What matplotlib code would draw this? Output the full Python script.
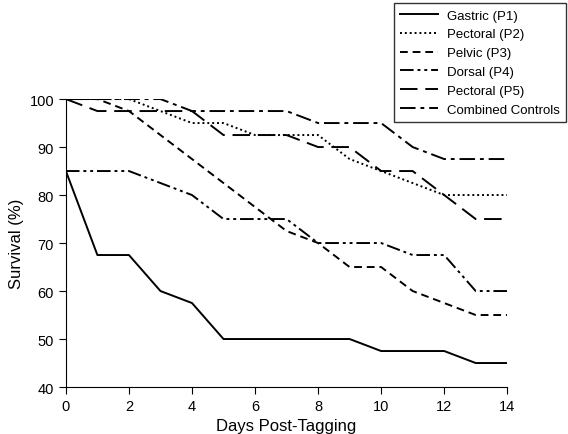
import numpy as np
import matplotlib.pyplot as plt

plt.rcParams['font.family'] = ['Liberation Sans', 'DejaVu Sans']

days = np.arange(0, 15)
gastric_p1 = [85, 67.5, 67.5, 60, 57.5, 50, 50, 50, 50, 50, 47.5, 47.5, 47.5, 45, 45]
pectoral_p2 = [100, 100, 100, 97.5, 95, 95, 92.5, 92.5, 92.5, 87.5, 85, 82.5, 80, 80, 80]
pelvic_p3 = [100, 100, 97.5, 92.5, 87.5, 82.5, 77.5, 72.5, 70, 65, 65, 60, 57.5, 55, 55]
dorsal_p4 = [85, 85, 85, 82.5, 80, 75, 75, 75, 70, 70, 70, 67.5, 67.5, 60, 60]
pectoral_p5 = [100, 97.5, 97.5, 97.5, 97.5, 92.5, 92.5, 92.5, 90, 90, 85, 85, 80, 75, 75]
controls = [100, 100, 100, 100, 97.5, 97.5, 97.5, 97.5, 95, 95, 95, 90, 87.5, 87.5, 87.5]

fig = plt.figure(figsize=(5.68, 4.35), dpi=100)
ax = fig.add_axes([0.116, 0.108, 0.777, 0.662])

lw = 1.4
ax.plot(days, gastric_p1, color='black', lw=lw, ls='-', label='Gastric (P1)')
ax.plot(days, pectoral_p2, color='black', lw=lw, ls=(0, (1, 1.5)), label='Pectoral (P2)')
ax.plot(days, pelvic_p3, color='black', lw=lw, ls=(0, (4, 2.5)), label='Pelvic (P3)')
ax.plot(days, dorsal_p4, color='black', lw=lw, ls=(0, (7, 2, 1.5, 2, 1.5, 2)), label='Dorsal (P4)')
ax.plot(days, pectoral_p5, color='black', lw=lw, ls=(0, (9, 4)), label='Pectoral (P5)')
ax.plot(days, controls, color='black', lw=lw, ls=(0, (8, 2.5, 2, 2.5)), label='Combined Controls')

ax.set_xlim(0, 14)
ax.set_ylim(40, 100)
ax.set_xticks(np.arange(0, 15, 2))
ax.set_yticks(np.arange(40, 101, 10))
ax.spines['top'].set_visible(False)
ax.spines['right'].set_visible(False)
ax.tick_params(direction='out', length=5, labelsize=10.5, color='black')
ax.set_xlabel('Days Post-Tagging', fontsize=12)
ax.set_ylabel('Survival (%)', fontsize=12)

fig.legend(loc='upper right', bbox_to_anchor=(0.997, 0.99), frameon=True, fancybox=False,
           edgecolor='black', fontsize=9.5, handlelength=2.9, labelspacing=0.5,
           borderpad=0.45, handletextpad=0.7, borderaxespad=0.0)

fig.savefig('out.png', dpi=100)
